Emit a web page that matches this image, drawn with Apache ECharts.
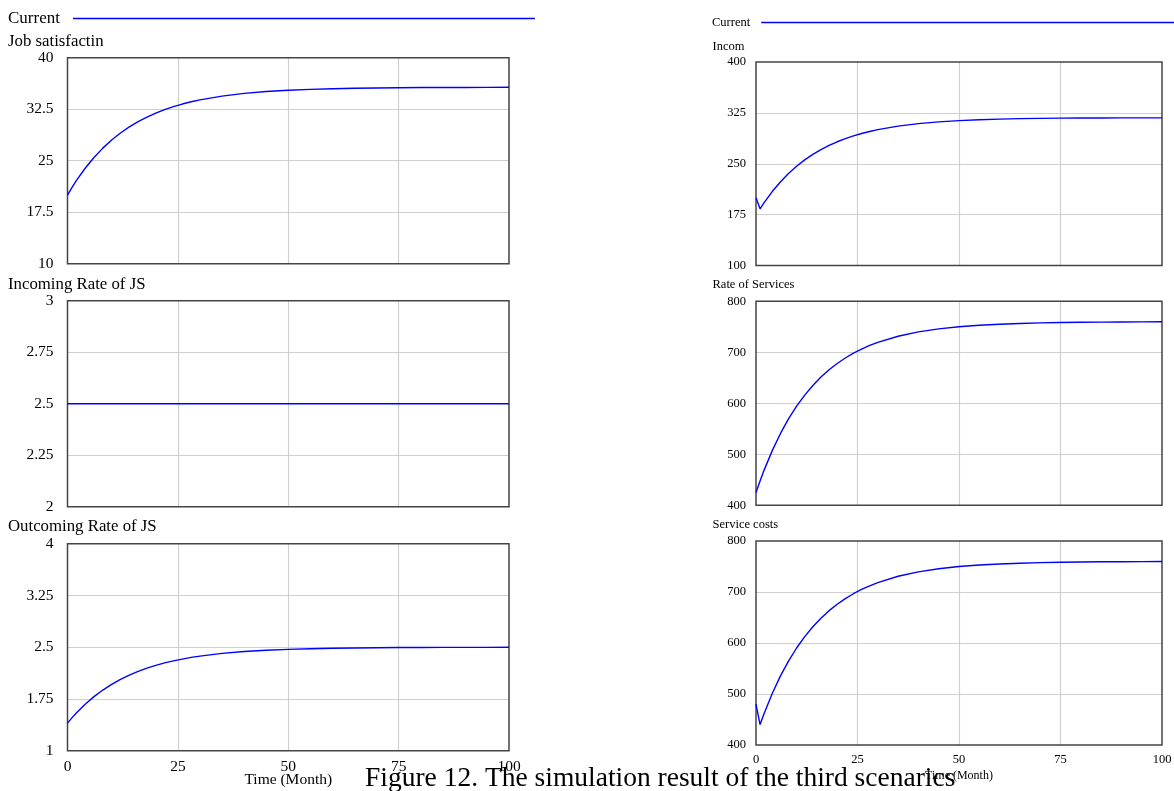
<!DOCTYPE html>
<html>
<head>
<meta charset="utf-8">
<script src="https://cdn.jsdelivr.net/npm/echarts@6/dist/echarts.min.js"></script>
<style>
html,body{margin:0;padding:0;background:#fff;}
#chart{width:1174px;height:791px;}
</style>
</head>
<body>
<div id="chart"></div>
<script>
// Time (Month)
var months = [0,1,2,4,6,8,10,12,14,16,18,20,22,24,26,28,30,35,40,45,50,55,60,65,70,75,80,85,90,95,100];
var jobSatisfaction = [20.00,21.08,22.09,23.90,25.47,26.83,28.01,29.04,29.92,30.69,31.36,31.94,32.44,32.87,33.25,33.58,33.86,34.41,34.80,35.07,35.26,35.39,35.48,35.55,35.59,35.63,35.65,35.66,35.67,35.68,35.69];
var incomingRateJS = [2.5,2.5,2.5,2.5,2.5,2.5,2.5,2.5,2.5,2.5,2.5,2.5,2.5,2.5,2.5,2.5,2.5,2.5,2.5,2.5,2.5,2.5,2.5,2.5,2.5,2.5,2.5,2.5,2.5,2.5,2.5];
var outcomingRateJS = [1.40,1.476,1.547,1.674,1.784,1.879,1.962,2.034,2.095,2.149,2.196,2.237,2.272,2.302,2.328,2.352,2.371,2.410,2.437,2.456,2.469,2.478,2.485,2.489,2.492,2.495,2.496,2.497,2.498,2.498,2.499];
var incom = [200,183.5,192.6,209.0,223.2,235.6,246.3,255.7,263.8,270.9,277.0,282.4,287.0,291.1,294.6,297.6,300.3,305.5,309.2,311.8,313.6,314.9,315.8,316.5,316.9,317.2,317.4,317.5,317.6,317.7,317.7];
var rateOfServices = [425,447.8,469.0,507.2,540.4,569.3,594.3,616.1,635.0,651.4,665.7,678.1,688.8,698.2,706.3,713.4,719.5,731.5,740.0,745.9,750.1,753.0,755.1,756.5,757.6,758.3,758.8,759.2,759.4,759.6,759.8];
var serviceCosts = [480,440,461.8,500.9,535.0,564.5,590.2,612.5,631.9,648.7,663.4,676.0,687.1,696.6,705.0,712.2,718.5,730.8,739.5,745.6,749.9,752.9,755.0,756.5,757.5,758.3,758.8,759.2,759.4,759.6,759.7];

var panelTitles = ['Job satisfactin','Incoming Rate of JS','Outcoming Rate of JS','Incom','Rate of Services','Service costs'];
var yMins = [10, 2, 1, 100, 400, 400];
var yMaxs = [40, 3, 4, 400, 800, 800];
var yIntervals = [7.5, 0.25, 0.75, 75, 100, 100];
var xTicks = [0, 25, 50, 75, 100];
var seriesName = 'Current';
var xAxisName = 'Time (Month)';
var caption = 'Figure 12. The simulation result of the third scenarics';

var allValues = [jobSatisfaction, incomingRateJS, outcomingRateJS, incom, rateOfServices, serviceCosts];

var FONT = 'Liberation Serif';
var grids = [
  {left: 67.5, top: 57.7, width: 441.5, height: 206},
  {left: 67.5, top: 300.7, width: 441.5, height: 206},
  {left: 67.5, top: 543.7, width: 441.5, height: 207},
  {left: 756, top: 62, width: 406, height: 203.5},
  {left: 756, top: 301.3, width: 406, height: 204},
  {left: 756, top: 541, width: 406, height: 204}
];
var titleTops = [33.5, 276, 518.5, 40.5, 278.5, 518.5];

var option = {
  animation: false,
  backgroundColor: '#fff',
  textStyle: {fontFamily: FONT},
  legend: [
    {data: [seriesName], left: 8, top: 10, padding: 0, align: 'right', icon: 'rect',
     itemWidth: 462, itemHeight: 1.5, itemStyle: {color: '#0000ff'},
     textStyle: {fontFamily: FONT, fontSize: 17, color: '#000', padding: [0, 8, 0, 0]}},
    {data: [seriesName], left: 712, top: 16, padding: 0, align: 'right', icon: 'rect',
     itemWidth: 413, itemHeight: 1.5, itemStyle: {color: '#0000ff'},
     textStyle: {fontFamily: FONT, fontSize: 12.5, color: '#000', padding: [0, 6, 0, 0]}}
  ],
  title: [],
  grid: [],
  xAxis: [],
  yAxis: [],
  series: []
};

for (var i = 0; i < 6; i++) {
  var left = i < 3;
  var fs = left ? 15.5 : 12.5;
  option.title.push({
    text: panelTitles[i], left: left ? 8 : 712.5, top: titleTops[i], padding: 0,
    textStyle: {fontFamily: FONT, fontSize: left ? 16.8 : 12.5, fontWeight: 'normal', color: '#000'}
  });
  var g = grids[i];
  option.grid.push({left: g.left, top: g.top, width: g.width, height: g.height,
    show: true, borderColor: '#444', borderWidth: 1.5, backgroundColor: 'transparent',
    containLabel: false, outerBoundsMode: 'none', z: 3});
  var bottom = (i === 2 || i === 5);
  option.xAxis.push({
    type: 'value', gridIndex: i, min: xTicks[0], max: xTicks[xTicks.length - 1], interval: 25,
    axisLine: {show: false}, axisTick: {show: false},
    axisLabel: {show: bottom, color: '#000', fontFamily: FONT, fontSize: fs, margin: 8, showMinLabel: true, showMaxLabel: true},
    splitLine: {show: true, showMinLine: false, showMaxLine: false, lineStyle: {color: '#cfcfcf', width: 1.2}},
    name: bottom ? xAxisName : '', nameLocation: 'middle', nameGap: left ? 21 : 25,
    nameMoveOverlap: false,
    nameTextStyle: {fontFamily: FONT, fontSize: left ? 15.5 : 12, color: '#000'}
  });
  option.yAxis.push({
    type: 'value', gridIndex: i, min: yMins[i], max: yMaxs[i], interval: yIntervals[i],
    axisLine: {show: false}, axisTick: {show: false},
    axisLabel: {color: '#000', fontFamily: FONT, fontSize: fs, margin: left ? 14 : 10, showMinLabel: true, showMaxLabel: true},
    splitLine: {show: true, showMinLine: false, showMaxLine: false, lineStyle: {color: '#cfcfcf', width: 1.2}}
  });
  var vals = allValues[i];
  var data = [];
  for (var k = 0; k < months.length; k++) data.push([months[k], vals[k]]);
  option.series.push({
    name: seriesName, type: 'line', xAxisIndex: i, yAxisIndex: i, data: data,
    showSymbol: false, symbol: 'none', smooth: false, z: 4,
    lineStyle: {color: '#0000ff', width: 1.4}, itemStyle: {color: '#0000ff'}
  });
}

option.title.push({
  text: caption, left: 365, top: 765, padding: 0,
  textStyle: {fontFamily: FONT, fontSize: 27.5, fontWeight: 'normal', color: '#000'}
});

var chart = echarts.init(document.getElementById('chart'), null, {renderer: 'canvas'});
chart.setOption(option);
</script>
</body>
</html>
